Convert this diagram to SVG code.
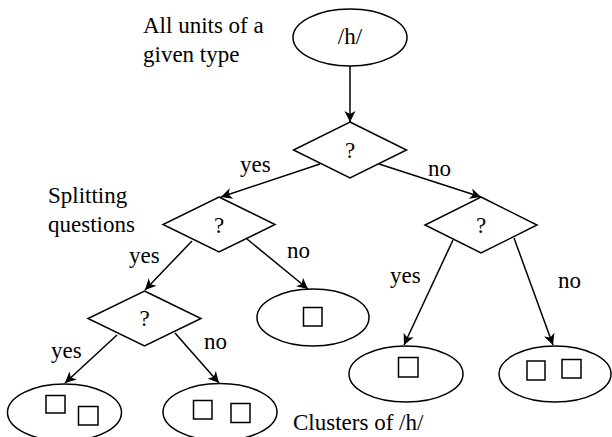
<svg xmlns="http://www.w3.org/2000/svg" width="612" height="437" viewBox="0 0 612 437" font-family="'Liberation Serif', 'Times New Roman', serif" font-size="23">
<style>
.s{fill:none;stroke:#000;stroke-width:1.5}
.sq{fill:none;stroke:#000;stroke-width:1.5}
.e{fill:none;stroke:#000;stroke-width:1.5}
.c{text-anchor:middle}
</style>
<defs>
<marker id="ah" markerUnits="userSpaceOnUse" markerWidth="16" markerHeight="16" viewBox="-13 -8 16 16" refX="0" refY="0" orient="auto">
<path d="M0,0 L-11,-5.5 L-8,0 L-11,5.5 Z" fill="#000"/>
</marker>
</defs>
<rect width="612" height="437" fill="#fff"/>
<g id="labels">
<text x="143" y="33">All units of a</text>
<text x="143" y="62">given type</text>
<text x="48" y="203">Splitting</text>
<text x="48" y="232">questions</text>
<text x="293" y="430">Clusters of /h/</text>
</g>
<g id="connectors">
<line class="s" x1="350" y1="66" x2="350" y2="122" marker-end="url(#ah)"/>
<line class="s" x1="320" y1="164" x2="221" y2="197" marker-end="url(#ah)"/>
<line class="s" x1="379" y1="164" x2="481" y2="197" marker-end="url(#ah)"/>
<line class="s" x1="192" y1="241" x2="145" y2="290" marker-end="url(#ah)"/>
<line class="s" x1="247" y1="239" x2="308" y2="289" marker-end="url(#ah)"/>
<line class="s" x1="117" y1="335" x2="65" y2="383" marker-end="url(#ah)"/>
<line class="s" x1="175" y1="333" x2="219" y2="383" marker-end="url(#ah)"/>
<line class="s" x1="453" y1="240" x2="404" y2="345" marker-end="url(#ah)"/>
<line class="s" x1="514" y1="238" x2="553" y2="345" marker-end="url(#ah)"/>
<text x="240" y="172">yes</text>
<text x="428" y="176">no</text>
<text x="129" y="263">yes</text>
<text x="287" y="258">no</text>
<text x="51" y="358">yes</text>
<text x="204" y="349">no</text>
<text x="390" y="283">yes</text>
<text x="558" y="288">no</text>
</g>
<g id="root">
<ellipse class="e" cx="350" cy="37.5" rx="57" ry="28.5"/>
<text class="c" x="350" y="44">/h/</text>
</g>
<g id="q1">
<polygon class="s" points="350,122 406.5,150 350,178 293.5,150"/>
<text class="c" x="350" y="158">?</text>
</g>
<g id="q2">
<polygon class="s" points="219,197 275,224.5 219,252 163,224.5"/>
<text class="c" x="219" y="233">?</text>
</g>
<g id="q3">
<polygon class="s" points="481,197 537,225 481,253 425,225"/>
<text class="c" x="481" y="233">?</text>
</g>
<g id="q4">
<polygon class="s" points="144.5,291 201,318.5 144.5,346 88,318.5"/>
<text class="c" x="144.5" y="326">?</text>
</g>
<g id="clusterA">
<ellipse class="e" cx="313" cy="317.5" rx="56" ry="28.5"/>
<rect class="sq" x="303.5" y="307.5" width="18.5" height="18.5"/>
</g>
<g id="clusterB">
<ellipse class="e" cx="64.5" cy="412.5" rx="57" ry="28.5"/>
<rect class="sq" x="46" y="395.5" width="19" height="17.5"/>
<rect class="sq" x="78.5" y="406.5" width="19.5" height="18.5"/>
</g>
<g id="clusterC">
<ellipse class="e" cx="220" cy="412" rx="57" ry="28.5"/>
<rect class="sq" x="193.5" y="400.5" width="18.5" height="18.5"/>
<rect class="sq" x="231" y="403.5" width="19" height="19"/>
</g>
<g id="clusterD">
<ellipse class="e" cx="406" cy="374" rx="57" ry="28"/>
<rect class="sq" x="398.5" y="357.5" width="19.5" height="19.5"/>
</g>
<g id="clusterE">
<ellipse class="e" cx="555" cy="374" rx="56" ry="28"/>
<rect class="sq" x="527" y="361" width="18" height="19"/>
<rect class="sq" x="562" y="359.5" width="19" height="18.5"/>
</g>
</svg>
